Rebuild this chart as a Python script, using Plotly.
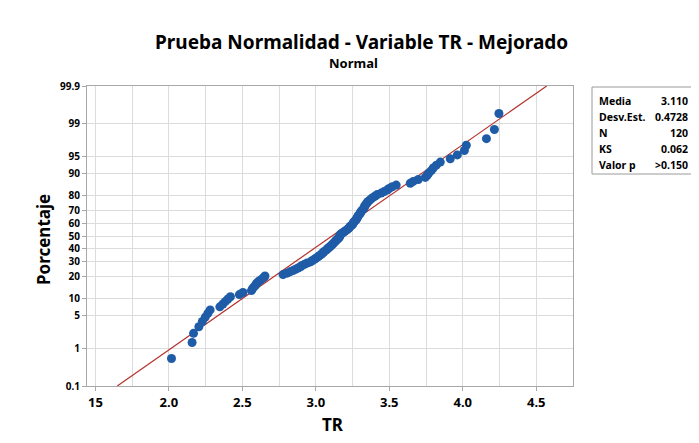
import plotly.graph_objects as go
from statistics import NormalDist

# ---- data ----
tr_values = [
    2.018, 2.158, 2.168, 2.204, 2.228, 2.248, 2.266, 2.281, 2.347, 2.368,
    2.385, 2.402, 2.419, 2.480, 2.504, 2.562, 2.569, 2.579, 2.589, 2.596,
    2.606, 2.620, 2.634, 2.647, 2.654, 2.777, 2.804, 2.824, 2.845, 2.862,
    2.879, 2.896, 2.906, 2.923, 2.940, 2.964, 2.974, 2.988, 2.998, 3.009,
    3.019, 3.029, 3.039, 3.046, 3.053, 3.063, 3.073, 3.080, 3.087, 3.097,
    3.104, 3.111, 3.118, 3.124, 3.131, 3.138, 3.145, 3.152, 3.159, 3.162,
    3.165, 3.169, 3.176, 3.186, 3.196, 3.206, 3.216, 3.223, 3.230, 3.233,
    3.244, 3.251, 3.254, 3.257, 3.264, 3.271, 3.278, 3.281, 3.285, 3.288,
    3.295, 3.302, 3.305, 3.309, 3.315, 3.325, 3.329, 3.332, 3.336, 3.343,
    3.349, 3.356, 3.366, 3.377, 3.390, 3.404, 3.418, 3.445, 3.465, 3.486,
    3.499, 3.520, 3.547, 3.643, 3.663, 3.697, 3.745, 3.758, 3.769, 3.786,
    3.799, 3.820, 3.847, 3.915, 3.963, 4.011, 4.024, 4.161, 4.215, 4.246,
]
media = 3.110
desv_est = 0.4728
n_obs = 120
ks = 0.062
valor_p = ">0.150"

pct_ticks = [0.1, 1, 5, 10, 20, 30, 40, 50, 60, 70, 80, 90, 95, 99, 99.9]
pct_labels = ["0.1", "1", "5", "10", "20", "30", "40", "50", "60", "70", "80", "90", "95", "99", "99.9"]
x_ticks = [1.5, 2.0, 2.5, 3.0, 3.5, 4.0, 4.5]
x_labels = ["15", "2.0", "2.5", "3.0", "3.5", "4.0", "4.5"]

stats_labels = ["Media", "Desv.Est.", "N", "KS", "Valor p"]
stats_values = [f"{media:.3f}", f"{desv_est:.4f}", f"{n_obs}", f"{ks:.3f}", valor_p]

# ---- probability scale ----
nd = NormalDist()
def z_of(pct):
    return nd.inv_cdf(pct / 100.0)

xs = sorted(tr_values)
n = len(xs)
pp = [(i - 0.3) / (n + 0.4) * 100 for i in range(1, n + 1)]  # median ranks
zs = [z_of(p) for p in pp]

z_lo, z_hi = z_of(0.1), z_of(99.9)
fit_x = [media + desv_est * z_lo, media + desv_est * z_hi]
fit_z = [z_lo, z_hi]

# page body has an 8px margin: work in screen pixels, convert to figure pixels
OFF = 8
W, H = 699 - OFF, 443 - OFF
L, R, T, B = 87 - OFF, 573 - OFF, 86 - OFF, 386 - OFF
def px(x):
    return (x - OFF - L) / (R - L)
def py(y):
    return (B - (y - OFF)) / (B - T)

FONT = "Noto Sans"

fig = go.Figure()
fig.add_trace(go.Scatter(x=fit_x, y=fit_z, mode="lines",
                         line=dict(color="#b3302c", width=1.2),
                         hoverinfo="skip", showlegend=False))
fig.add_trace(go.Scatter(x=xs, y=zs, mode="markers",
                         marker=dict(color="#1f5ca8", size=9, line=dict(width=0)),
                         showlegend=False))

fig.update_layout(
    width=W, height=H,
    margin=dict(l=L, r=W - R, t=T, b=H - B),
    paper_bgcolor="white", plot_bgcolor="white",
    font=dict(family=FONT, color="black"),
    showlegend=False,
)
fig.update_xaxes(
    range=[1.443, 4.75], tickvals=x_ticks, ticktext=x_labels,
    showgrid=True, gridcolor="#dcdcdc", gridwidth=1,
    minor=dict(tick0=1.5, dtick=0.25, showgrid=True, gridcolor="#dcdcdc", gridwidth=1),
    showline=True, linecolor="#a8a8a8", linewidth=1, mirror=True,
    ticks="outside", ticklen=4, tickcolor="#a8a8a8",
    tickfont=dict(size=13, family=FONT, weight="bold"),
    zeroline=False,
)
fig.update_yaxes(
    range=[z_lo, z_hi], tickvals=[z_of(p) for p in pct_ticks], ticktext=pct_labels,
    showgrid=True, gridcolor="#dcdcdc", gridwidth=1,
    showline=True, linecolor="#a8a8a8", linewidth=1, mirror=True,
    ticks="outside", ticklen=4, tickcolor="#a8a8a8",
    tickfont=dict(size=10, family=FONT, weight="bold"),
    zeroline=False,
)

ann = []
ann.append(dict(x=px(361), y=py(42), xref="paper", yref="paper", showarrow=False,
                text="Prueba Normalidad - Variable TR - Mejorado",
                font=dict(size=19, family=FONT, weight="bold"), xanchor="center", yanchor="middle"))
ann.append(dict(x=px(353), y=py(63), xref="paper", yref="paper", showarrow=False,
                text="Normal", font=dict(size=13, family=FONT, weight="bold"),
                xanchor="center", yanchor="middle"))
ann.append(dict(x=px(333), y=py(425), xref="paper", yref="paper", showarrow=False,
                text="TR", font=dict(size=17, family=FONT, weight="bold"),
                xanchor="center", yanchor="middle"))
ann.append(dict(x=px(43), y=py(240), xref="paper", yref="paper", showarrow=False,
                text="Porcentaje", textangle=-90, font=dict(size=17, family=FONT, weight="bold"),
                xanchor="center", yanchor="middle"))
rows_y = [101, 117, 133, 149, 165]
for lab, val, yy in zip(stats_labels, stats_values, rows_y):
    ann.append(dict(x=px(597), y=py(yy), xref="paper", yref="paper", showarrow=False,
                    text=lab, font=dict(size=10.5, family=FONT, weight="bold"),
                    xanchor="left", yanchor="middle"))
    ann.append(dict(x=px(690), y=py(yy), xref="paper", yref="paper", showarrow=False,
                    text=val, font=dict(size=10.5, family=FONT, weight="bold"),
                    xanchor="right", yanchor="middle"))
fig.update_layout(annotations=ann)

fig.add_shape(type="rect", xref="paper", yref="paper",
              x0=px(592), x1=px(694), y0=py(174), y1=py(87),
              line=dict(color="#9a9a9a", width=1), fillcolor="white", layer="above")

fig.write_html("out.html")
